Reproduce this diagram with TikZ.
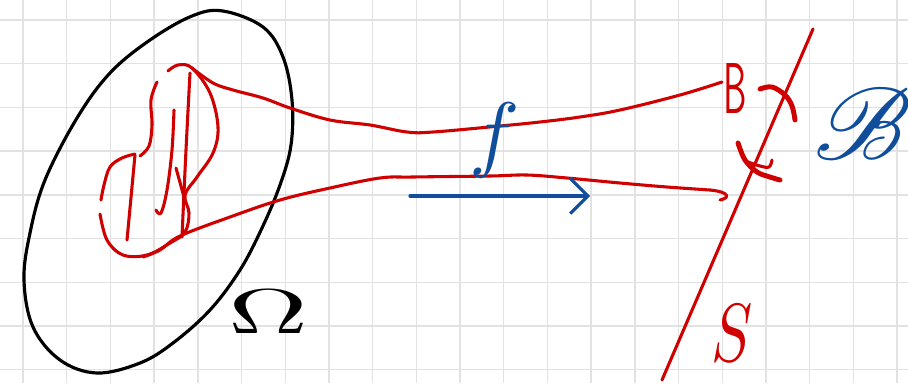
\documentclass[tikz,border=0pt]{standalone}
\usepackage{graphicx}
\usepackage{amsmath}
\usepackage{mathrsfs}
\usetikzlibrary{arrows.meta}
\definecolor{redpen}{RGB}{208,0,0}
\definecolor{bluepen}{RGB}{16,78,156}
\definecolor{gridc}{RGB}{226,226,226}
\tikzset{
  gridline/.style={draw=gridc, line width=0.8pt},
  blackpen/.style={draw=black, line width=1.8pt, line cap=round, line join=round},
  redstroke/.style={draw=redpen, line width=1.75pt, line cap=round, line join=round},
  redthick/.style={draw=redpen, line width=2.8pt, line cap=round, line join=round},
  bluestroke/.style={draw=bluepen, line width=1.8pt, line cap=round, line join=round},
  lbl/.style={inner sep=0pt, outer sep=0pt}
}
\begin{document}
\begin{tikzpicture}[x=0.02cm,y=-0.02cm]
\useasboundingbox (0,0) rectangle (908,383);
\fill[white] (0,0) rectangle (908,383);
% grid
\foreach \i in {0,...,20} \draw[gridline] ({23+43.7*\i},0) -- ({23+43.7*\i},383);
\foreach \j in {0,...,8} \draw[gridline] (0,{20+43.7*\j}) -- (908,{20+43.7*\j});
% Omega region
\draw[blackpen] plot[smooth cycle, tension=0.6] coordinates {
 (223,11) (263,27) (283,57) (292,100) (291,145) (280,185) (262,228) (240,270)
 (210,310) (173,343) (140,363) (97,373) (60,360) (33,327) (24,280) (30,233)
 (45,180) (77,118) (110,73) (150,40) (192,16)};
% red blob
\draw[redstroke] plot[smooth, tension=0.6] coordinates {
 (168,71) (178,65) (192,68) (210,93) (218,127) (213,153) (197,177) (185,195)
 (189,213) (185,232) (170,243) (147,255) (123,255) (107,240) (100,214)};
\draw[redstroke] plot[smooth, tension=0.6] coordinates {
 (101,200) (104,185) (110,167) (122,158) (135,154)};
\draw[redstroke] plot[smooth, tension=0.6] coordinates {
 (140,156) (149,146) (152,125) (151,100) (157,82)};
\draw[redstroke] (135,155) -- (127,240);
\draw[redstroke] plot[smooth, tension=0.6] coordinates {
 (174,110) (172,150) (167,190) (161,213) (156,210)};
\draw[redstroke] plot[smooth, tension=0.6] coordinates {
 (182,237) (186,150) (190,73)};
\draw[redstroke] (176,168) -- (184,197);
% funnel
\draw[redstroke] plot[smooth, tension=0.6] coordinates {
 (192,68) (213,83) (233,90) (263,98) (290,108) (330,120) (370,125) (407,132)
 (433,132) (500,126) (540,122) (580,117) (620,110) (680,95) (722,82)};
\draw[redstroke] plot[smooth, tension=0.6] coordinates {
 (143,257) (160,250) (180,236) (230,217) (280,200) (330,188) (380,178) (413,177)
 (490,176) (527,175) (567,178) (620,183) (667,187) (710,190)};
\draw[redstroke] (710,190) .. controls (730,192) and (730,198) .. (720,200);
% plane S
\draw[redstroke] (813,29) -- (662,380);
% marks near B
\draw[redthick] plot[smooth, tension=0.6] coordinates {
 (760,89) (772,87) (785,95) (792,106) (795,120)};
\draw[redthick] plot[smooth, tension=0.6] coordinates {
 (738,143) (745,160) (757,172) (770,177) (780,180)};
\draw[redstroke] plot[smooth, tension=0.6] coordinates {
 (748,162) (760,166) (769,167) (772,160)};
% arrow f
\draw[bluestroke, -{Straight Barb[length=10pt, width=20pt, line width=1.8pt]}] (410,196) -- (590,196);
% labels
\node[lbl, text=bluepen] (f) at (495,140) {\scalebox{4.8}{$f$}};
\node[lbl, text=black] (omega) at (268,312) {\scalebox{6.3}[3.6]{$\Omega$}};
\node[lbl, text=redpen] (S) at (732,333) {\scalebox{3.5}[4.7]{$S$}};
\node[lbl, text=redpen] (B) at (735,88) {\scalebox{2}[4.1]{\sffamily B}};
\node[lbl, text=bluepen] (calB) at (863,124) {\scalebox{5.8}{$\mathscr{B}$}};
\end{tikzpicture}
\end{document}
